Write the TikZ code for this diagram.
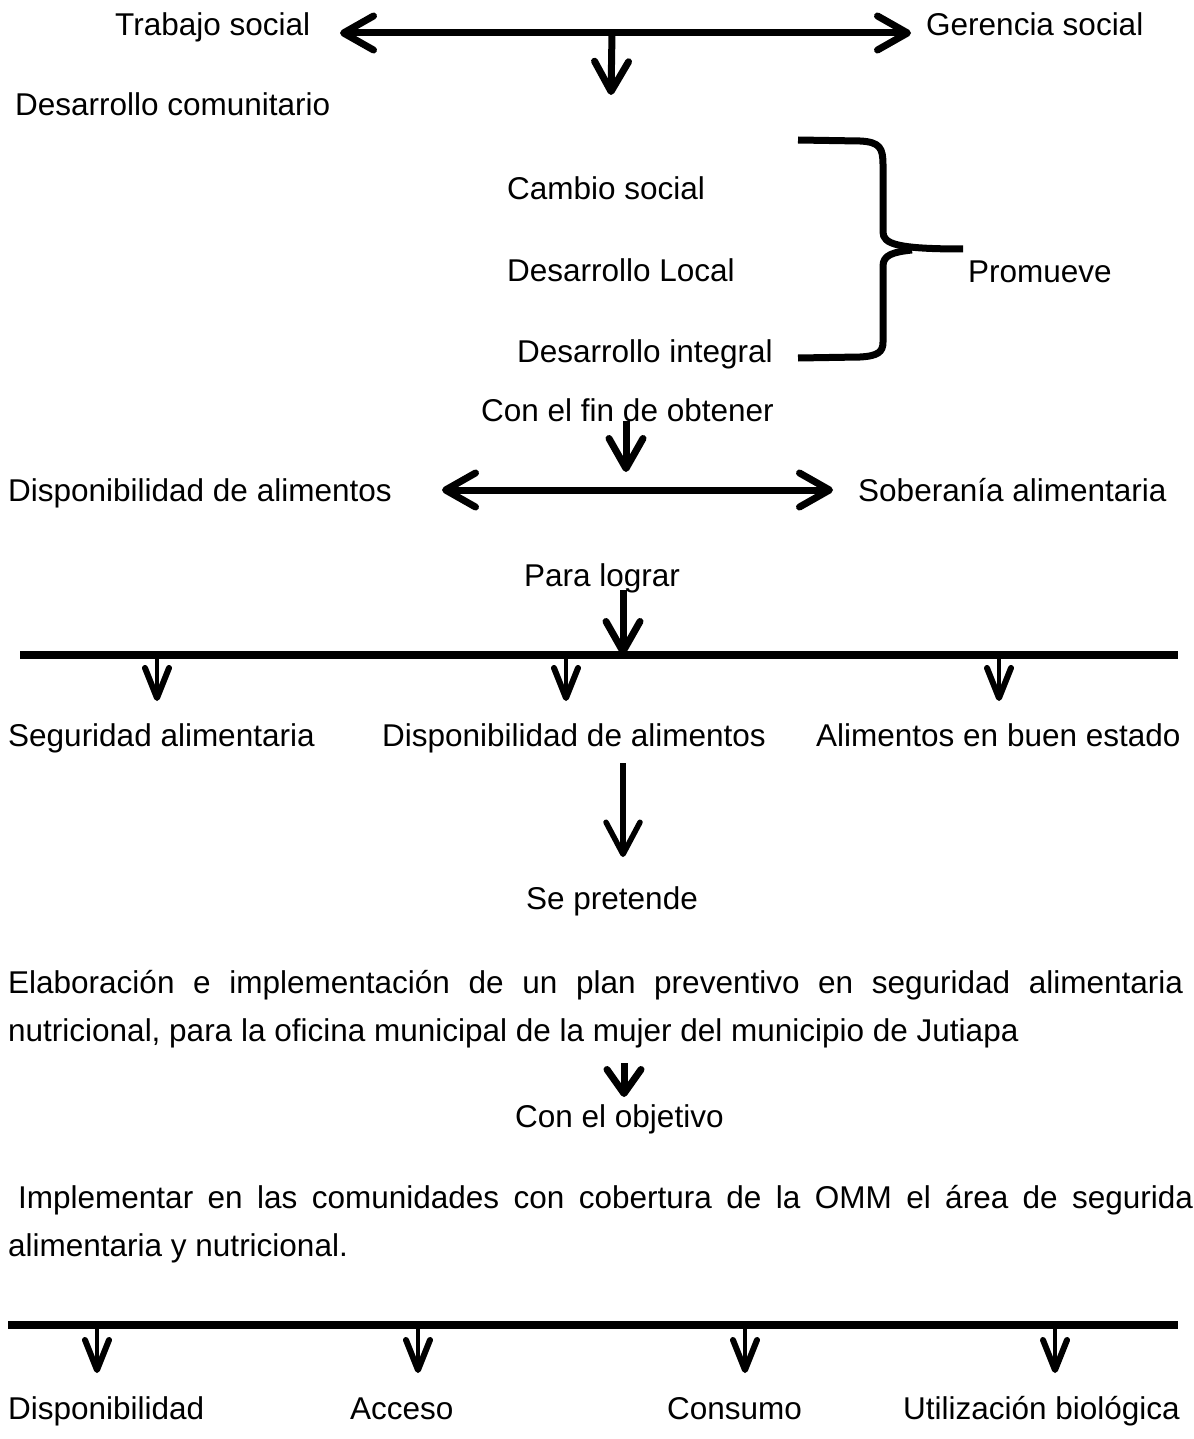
\documentclass[tikz,border=0pt]{standalone}
\usepackage{fontspec}
\setmainfont{Liberation Sans}
\usetikzlibrary{arrows.meta}
\newcommand\fsz{\fontsize{31.5}{38}\selectfont}
\tikzset{
  lbl/.style={anchor=base west, inner sep=0pt, font=\fsz},
  bigarr/.style={line width=7pt, -{Straight Barb[round,length=30pt,width=34pt]}},
  dblarr/.style={line width=7pt, {Straight Barb[round,length=30pt,width=34pt]}-{Straight Barb[round,length=30pt,width=34pt]}},
  smallarr/.style={line width=4.5pt, -{Straight Barb[round,line width=6pt,length=30pt,width=24pt]}},
  bar/.style={line width=8pt},
  bracel/.style={line width=7pt, line join=round}
}
\begin{document}
\begin{tikzpicture}[x=1pt,y=-1pt]
\useasboundingbox (0,0) rectangle (1193,1439);
\fill[white] (0,0) rectangle (1193,1439);

% --- top ---
\node[lbl] (trabajo) at (115,36) {Trabajo social};
\node[lbl] (gerencia) at (926,36) {Gerencia social};
\node[lbl] (descom) at (15,116) {Desarrollo comunitario};
\coordinate (t1) at (340,33);
\coordinate (t2) at (911,33);
\coordinate (tm) at (612,33);
\coordinate (tdown) at (611,95);
\draw[dblarr] (t1) -- (t2);
\draw[bigarr] (tm) -- (tdown);

% --- brace block ---
\node[lbl] (cambio) at (507,200) {Cambio social};
\node[lbl] (local) at (507,281) {Desarrollo Local};
\node[lbl] (integral) at (517,362) {Desarrollo integral};
\node[lbl] (promueve) at (968,282) {Promueve};
\coordinate (btop) at (798,140);
\coordinate (bbot) at (798,358);
\coordinate (bpt) at (963,249);
\draw[bracel] (btop) -- (860,141) .. controls (880,142) and (883,148) .. (883,165)
  -- (883,232) .. controls (883,244) and (897,249) .. (bpt);
\draw[bracel] (912,250) .. controls (893,252) and (883,255) .. (883,266)
  -- (883,342) .. controls (883,352) and (878,356) .. (860,357) -- (bbot);

% --- con el fin de obtener ---
\node[lbl] (confin) at (481,421) {Con el fin de obtener};
\coordinate (c1) at (626,421);
\coordinate (c2) at (626,472);
\draw[bigarr] (c1) -- (c2);
\node[lbl] (dispo1) at (8,501) {Disponibilidad de alimentos};
\node[lbl] (sober) at (858,501) {Soberanía alimentaria};
\coordinate (d1) at (442,490);
\coordinate (d2) at (833,490);
\draw[dblarr] (d1) -- (d2);

% --- para lograr ---
\node[lbl] (para) at (524,586) {Para lograr};
\coordinate (p1) at (623,590);
\coordinate (p2) at (623,655);
\draw[bigarr] (p1) -- (p2);
\coordinate (bar1l) at (20,655);
\coordinate (bar1r) at (1178,655);
\draw[bar] (bar1l) -- (bar1r);
\coordinate (a1) at (157,655); \coordinate (a1e) at (157,701);
\coordinate (a2) at (566,655); \coordinate (a2e) at (566,701);
\coordinate (a3) at (999,655); \coordinate (a3e) at (999,701);
\draw[smallarr] (a1) -- (a1e);
\draw[smallarr] (a2) -- (a2e);
\draw[smallarr] (a3) -- (a3e);
\node[lbl] (segu) at (8,746) {Seguridad alimentaria};
\node[lbl] (dispo2) at (382,746) {Disponibilidad de alimentos};
\node[lbl] (alim) at (816,746) {Alimentos en buen estado};

% --- se pretende ---
\coordinate (s1) at (623,763);
\coordinate (s2) at (623,857);
\draw[line width=5.5pt, -{Straight Barb[round,length=32pt,width=34pt]}] (s1) -- (s2);
\node[lbl] (sepre) at (526,909) {Se pretende};

\node[lbl] (elab1) at (8,993) {\makebox[1175pt][s]{Elaboración e implementación de un plan preventivo en seguridad alimentaria}};
\node[lbl] (elab2) at (8,1041) {nutricional, para la oficina municipal de la mujer del municipio de Jutiapa};
\coordinate (o1) at (624,1063);
\coordinate (o2) at (624,1097);
\draw[line width=7pt, -{Straight Barb[round,length=24pt,width=34pt]}] (o1) -- (o2);
\node[lbl] (objet) at (515,1127) {Con el objetivo};

\node[lbl] (impl1) at (18,1208) {\makebox[1175pt][s]{Implementar en las comunidades con cobertura de la OMM el área de segurida}};
\node[lbl] (impl2) at (8,1256) {alimentaria y nutricional.};

% --- bottom bar ---
\coordinate (bar2l) at (8,1325);
\coordinate (bar2r) at (1178,1325);
\draw[bar] (bar2l) -- (bar2r);
\coordinate (b1) at (97,1325);  \coordinate (b1e) at (97,1373);
\coordinate (b2) at (418,1325); \coordinate (b2e) at (418,1373);
\coordinate (b3) at (745,1325); \coordinate (b3e) at (745,1373);
\coordinate (b4) at (1055,1325); \coordinate (b4e) at (1055,1373);
\draw[smallarr] (b1) -- (b1e);
\draw[smallarr] (b2) -- (b2e);
\draw[smallarr] (b3) -- (b3e);
\draw[smallarr] (b4) -- (b4e);
\node[lbl] (l1) at (8,1419) {Disponibilidad};
\node[lbl] (l2) at (350,1419) {Acceso};
\node[lbl] (l3) at (667,1419) {Consumo};
\node[lbl] (l4) at (903,1419) {Utilización biológica};
\end{tikzpicture}
\end{document}
